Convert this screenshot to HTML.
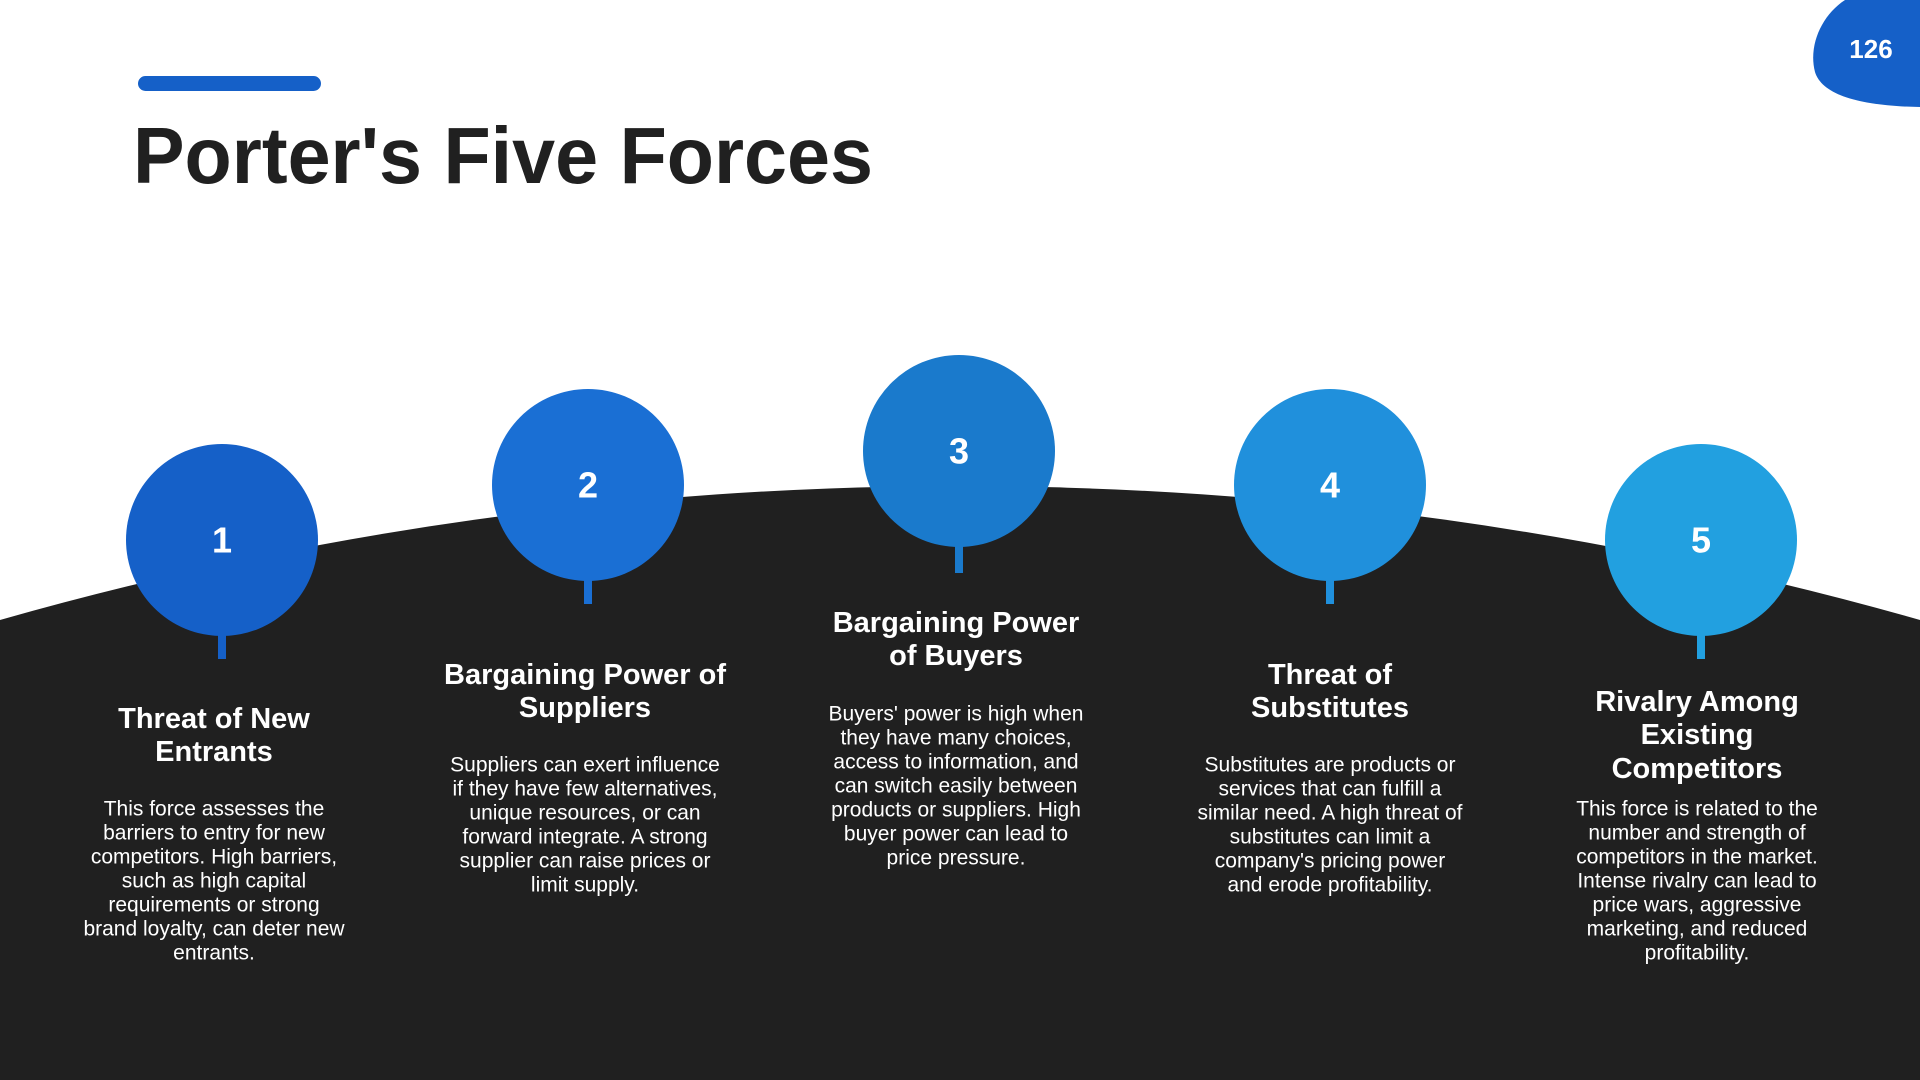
<!DOCTYPE html>
<html><head><meta charset="utf-8"><style>
html,body{margin:0;padding:0;background:#fff;width:1920px;height:1080px;overflow:hidden;}
svg{display:block;}
text{font-family:"Liberation Sans",sans-serif;}
</style></head><body>
<svg width="1920" height="1080" viewBox="0 0 1920 1080" xmlns="http://www.w3.org/2000/svg">
<rect width="1920" height="1080" fill="#fff"/>
<path d="M0,620 A3506,3506 0 0 1 1920,620 L1920,1080 L0,1080 Z" fill="#202020"/>
<rect x="138" y="76" width="183" height="15" rx="7.5" fill="#1560C8"/>
<text x="133" y="183" font-size="80" font-weight="bold" fill="#202020" textLength="740" lengthAdjust="spacingAndGlyphs">Porter's Five Forces</text>
<path d="M1845,0 L1920,0 L1920,107 C1860,106 1822,95 1815,72 C1808,45 1822,15 1845,0 Z" fill="#1560C8"/>
<text x="1871" y="58" font-size="26" font-weight="bold" fill="#fff" text-anchor="middle">126</text>

<g fill="#1560C8"><circle cx="222" cy="540" r="96"/><rect x="218" y="630" width="8" height="29"/></g>
<g fill="#1a6fd4"><circle cx="588" cy="485" r="96"/><rect x="584" y="575" width="8" height="29"/></g>
<g fill="#1a7acc"><circle cx="959" cy="451" r="96"/><rect x="955" y="541" width="8" height="32"/></g>
<g fill="#2090dc"><circle cx="1330" cy="485" r="96"/><rect x="1326" y="575" width="8" height="29"/></g>
<g fill="#22a0e0"><circle cx="1701" cy="540" r="96"/><rect x="1697" y="630" width="8" height="29"/></g>

<g font-size="36" font-weight="bold" fill="#fff" text-anchor="middle" dominant-baseline="central">
<text x="222" y="540">1</text><text x="588" y="485">2</text><text x="959" y="451">3</text><text x="1330" y="485">4</text><text x="1701" y="540">5</text>
</g>

<g font-size="29" font-weight="bold" fill="#fff" text-anchor="middle" dominant-baseline="central">
<text x="214" y="719">Threat of New</text><text x="214" y="752">Entrants</text>
<text x="585" y="675">Bargaining Power of</text><text x="585" y="708">Suppliers</text>
<text x="956" y="623">Bargaining Power</text><text x="956" y="656">of Buyers</text>
<text x="1330" y="675">Threat of</text><text x="1330" y="708">Substitutes</text>
<text x="1697" y="702">Rivalry Among</text><text x="1697" y="735">Existing</text><text x="1697" y="769">Competitors</text>
</g>

<g font-size="21" fill="#fff" text-anchor="middle" dominant-baseline="central">
<text x="214" y="809">This force assesses the</text>
<text x="214" y="833">barriers to entry for new</text>
<text x="214" y="857">competitors. High barriers,</text>
<text x="214" y="881">such as high capital</text>
<text x="214" y="905">requirements or strong</text>
<text x="214" y="929">brand loyalty, can deter new</text>
<text x="214" y="953">entrants.</text>

<text x="585" y="765">Suppliers can exert influence</text>
<text x="585" y="789">if they have few alternatives,</text>
<text x="585" y="813">unique resources, or can</text>
<text x="585" y="837">forward integrate. A strong</text>
<text x="585" y="861">supplier can raise prices or</text>
<text x="585" y="885">limit supply.</text>

<text x="956" y="714">Buyers' power is high when</text>
<text x="956" y="738">they have many choices,</text>
<text x="956" y="762">access to information, and</text>
<text x="956" y="786">can switch easily between</text>
<text x="956" y="810">products or suppliers. High</text>
<text x="956" y="834">buyer power can lead to</text>
<text x="956" y="858">price pressure.</text>

<text x="1330" y="765">Substitutes are products or</text>
<text x="1330" y="789">services that can fulfill a</text>
<text x="1330" y="813">similar need. A high threat of</text>
<text x="1330" y="837">substitutes can limit a</text>
<text x="1330" y="861">company's pricing power</text>
<text x="1330" y="885">and erode profitability.</text>

<text x="1697" y="809">This force is related to the</text>
<text x="1697" y="833">number and strength of</text>
<text x="1697" y="857">competitors in the market.</text>
<text x="1697" y="881">Intense rivalry can lead to</text>
<text x="1697" y="905">price wars, aggressive</text>
<text x="1697" y="929">marketing, and reduced</text>
<text x="1697" y="953">profitability.</text>
</g>
</svg>
</body></html>
